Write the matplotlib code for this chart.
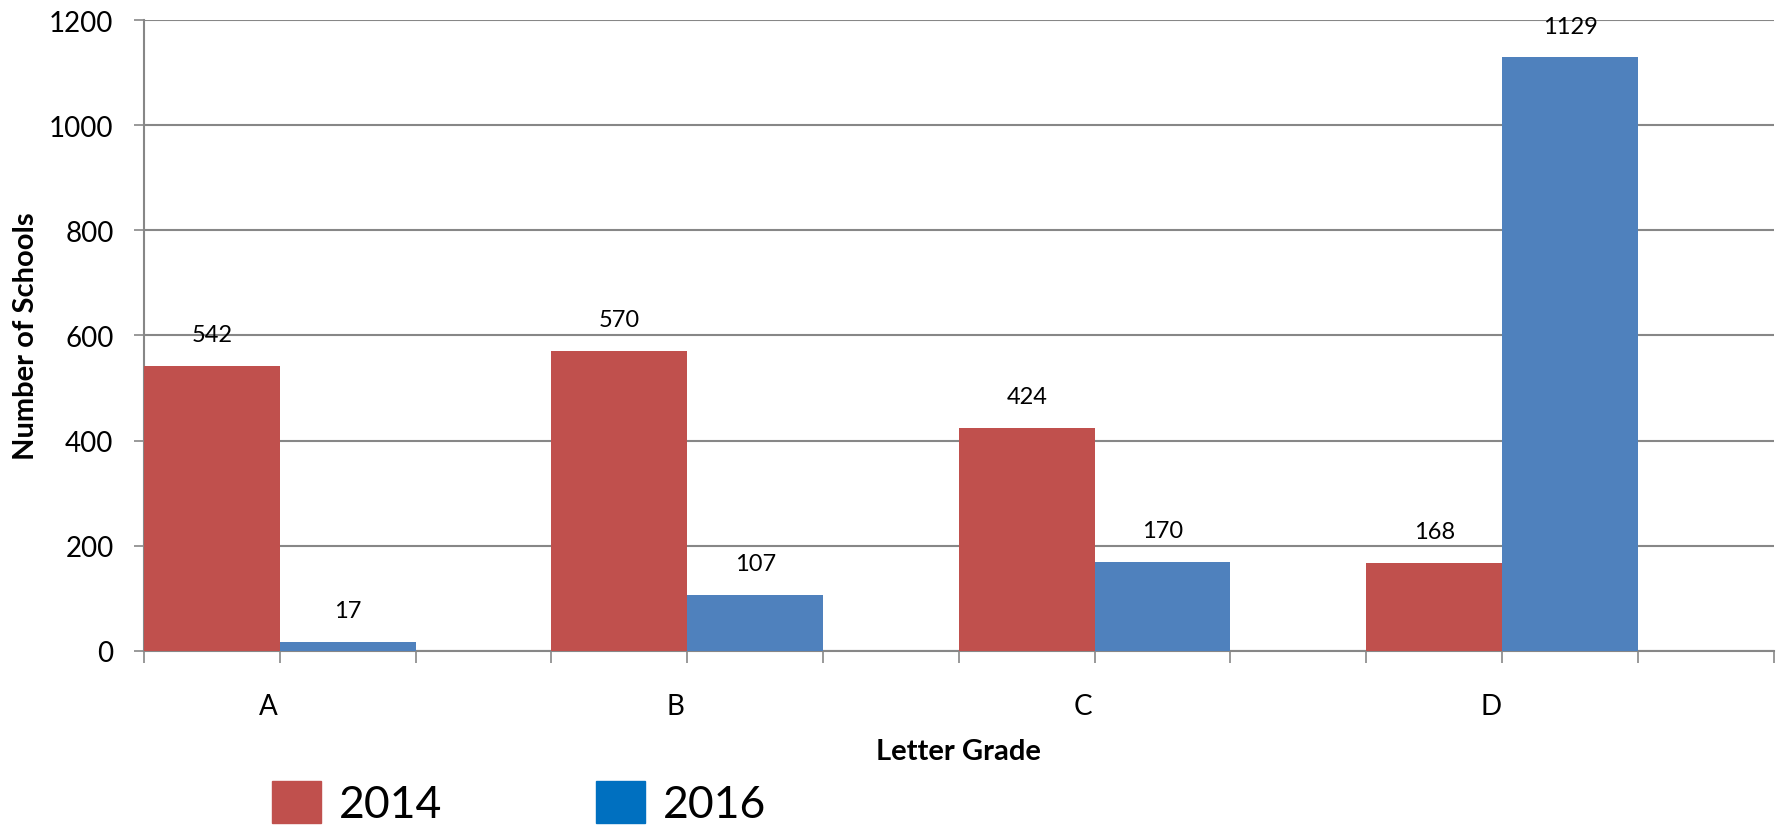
import matplotlib
matplotlib.use('Agg')
import matplotlib.pyplot as plt
from matplotlib.patches import Patch
import numpy as np

# values
grades = ['A', 'B', 'C', 'D']
schools_2014 = [542, 570, 424, 168]
schools_2016 = [17, 107, 170, 1129]
y_ticks = [0, 200, 400, 600, 800, 1000, 1200]

RED = '#C0504D'
BLUE = '#4F81BD'
LEGEND_BLUE = '#0070C0'
GRID = '#878787'

plt.rcParams['font.family'] = ['Lato', 'DejaVu Sans']

fig = plt.figure(figsize=(17.79, 8.28), dpi=100)
ax = fig.add_axes([0.081, 0.2126, 0.916, 0.762])

# each category spans one unit: red third, blue third, empty third
x = np.arange(len(grades))
w = 1 / 3
bars1 = ax.bar(x, schools_2014, w, align='edge', color=RED, zorder=3)
bars2 = ax.bar(x + w, schools_2016, w, align='edge', color=BLUE, zorder=3)

for bars in (bars1, bars2):
    for b in bars:
        ax.annotate(str(int(b.get_height())),
                    (b.get_x() + b.get_width() / 2, b.get_height()),
                    xytext=(0, 15), textcoords='offset points',
                    ha='center', va='bottom', fontsize=17)

ax.set_xlim(0, len(grades))
ax.set_ylim(0, 1200)
ax.set_yticks(y_ticks)
ax.yaxis.grid(True, color=GRID, linewidth=1.5, zorder=0)
ax.tick_params(axis='y', direction='out', length=7, width=1.2, color=GRID,
               labelsize=20, pad=15)

# labels sit slightly left of the red/blue boundary, like the original
ax.set_xticks(x + w - 0.028)
ax.set_xticklabels(grades)
ax.set_xticks(np.arange(0, len(grades) + 0.01, w), minor=True)
ax.tick_params(axis='x', which='major', length=0, labelsize=20, pad=30)
ax.tick_params(axis='x', which='minor', direction='out', length=8.5, width=1.2,
               color=GRID)

for side in ('top', 'right'):
    ax.spines[side].set_visible(False)
for side in ('left', 'bottom'):
    ax.spines[side].set_color(GRID)
    ax.spines[side].set_linewidth(1.5)

ax.set_xlabel('Letter Grade', fontsize=21, fontweight='bold', labelpad=14)
ax.set_ylabel('Number of Schools', fontsize=21, fontweight='bold', labelpad=7)

handles = [Patch(color=RED, label='2014'), Patch(color=LEGEND_BLUE, label='2016')]
fig.legend(handles=handles, loc='upper left', bbox_to_anchor=(0.153, 0.056),
           ncol=2, frameon=False, fontsize=32, borderpad=0,
           handlelength=1.1, handleheight=1.1, handletextpad=0.4,
           columnspacing=3.47, borderaxespad=0)

fig.savefig('out.png', dpi=100)
